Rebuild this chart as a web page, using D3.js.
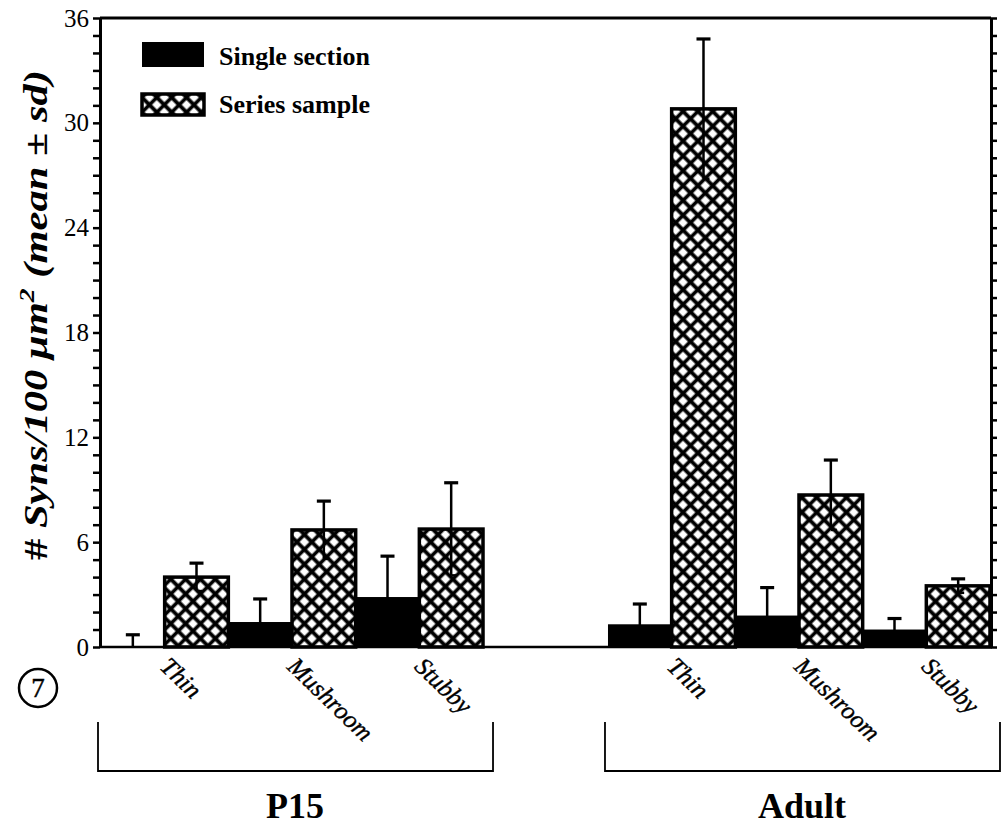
<!DOCTYPE html>
<html>
<head>
<meta charset="utf-8">
<script src="https://cdn.jsdelivr.net/npm/d3@7"></script>
<style>
  body { margin: 0; background: #fff; }
  text { font-family: "Liberation Serif", "DejaVu Serif", serif; fill: #000; }
</style>
</head>
<body>
<div id="chart"></div>
<script>
// values
var groups = ["P15", "Adult"];
var categories = ["Thin", "Mushroom", "Stubby"];
var seriesNames = ["Single section", "Series sample"];
var p15Single = [0, 1.43, 2.86];
var p15SingleSd = [0.7, 1.32, 2.34];
var p15Series = [4.0, 6.7, 6.75];
var p15SeriesSd = [0.8, 1.65, 2.65];
var adultSingle = [1.3, 1.8, 1.0];
var adultSingleSd = [1.16, 1.6, 0.63];
var adultSeries = [30.8, 8.7, 3.5];
var adultSeriesSd = [4.0, 2.0, 0.4];
var yTicks = [0, 6, 12, 18, 24, 30, 36];

var width = 1007, height = 826;
var plotLeft = 100, plotRight = 991, plotTop = 18, plotBottom = 647;

// flatten into bar records
var bars = [];
[[p15Single, p15SingleSd, p15Series, p15SeriesSd], [adultSingle, adultSingleSd, adultSeries, adultSeriesSd]]
  .forEach(function(g, gi) {
    categories.forEach(function(c, ci) {
      bars.push({ group: groups[gi], cat: c, series: seriesNames[0], mean: g[0][ci], sd: g[1][ci] });
      bars.push({ group: groups[gi], cat: c, series: seriesNames[1], mean: g[2][ci], sd: g[3][ci] });
    });
  });

var svg = d3.select("#chart").append("svg")
  .attr("width", width)
  .attr("height", height);

// cross-hatch fill
var pat = svg.append("defs").append("pattern")
  .attr("id", "hatch")
  .attr("patternUnits", "userSpaceOnUse")
  .attr("width", 10.5).attr("height", 10.5)
  .attr("patternTransform", "rotate(45)");
pat.append("rect").attr("width", 10.5).attr("height", 10.5).attr("fill", "#fff");
pat.append("path").attr("d", "M0,5.25H10.5M5.25,0V10.5").attr("stroke", "#000").attr("stroke-width", 3.6);

// scales
var y = d3.scaleLinear().domain([0, 36]).range([plotBottom, plotTop]);
var xGroup = d3.scaleBand().domain(groups).range([101, 990]).paddingInner(0.2465);
var xCat = d3.scaleBand().domain(categories).range([0, xGroup.bandwidth()]);
var xSeries = d3.scaleBand().domain(seriesNames).range([0, xCat.bandwidth()]);

function barX(d) { return xGroup(d.group) + xCat(d.cat) + xSeries(d.series); }

// bars
svg.selectAll(".bar")
  .data(bars)
  .enter().append("rect")
  .attr("class", "bar")
  .attr("x", barX)
  .attr("y", function(d) { return y(d.mean); })
  .attr("width", xSeries.bandwidth())
  .attr("height", function(d) { return y(0) - y(d.mean); })
  .attr("fill", function(d) { return d.series === seriesNames[0] ? "#000" : "url(#hatch)"; })
  .attr("stroke", "#000")
  .attr("stroke-width", function(d) { return d.series === seriesNames[0] ? 0 : 3.5; });

// error bars
var err = svg.selectAll(".err")
  .data(bars)
  .enter().append("g")
  .attr("class", "err")
  .attr("transform", function(d) { return "translate(" + (barX(d) + xSeries.bandwidth() / 2) + ",0)"; });
err.append("line")
  .attr("y1", function(d) { return y(Math.max(0, d.mean - d.sd)); })
  .attr("y2", function(d) { return y(d.mean + d.sd); })
  .attr("stroke", "#000").attr("stroke-width", 2.5);
err.append("line")
  .attr("x1", -7).attr("x2", 7)
  .attr("y1", function(d) { return y(d.mean + d.sd); })
  .attr("y2", function(d) { return y(d.mean + d.sd); })
  .attr("stroke", "#000").attr("stroke-width", 3.2);
err.filter(function(d) { return d.series === seriesNames[1]; })
  .append("line")
  .attr("x1", 0).attr("x2", 6)
  .attr("y1", function(d) { return y(d.mean - d.sd); })
  .attr("y2", function(d) { return y(d.mean - d.sd); })
  .attr("stroke", "#000").attr("stroke-width", 2.5);

// frame: top line and baseline
svg.append("line").attr("x1", plotLeft).attr("x2", plotRight).attr("y1", plotTop).attr("y2", plotTop)
  .attr("stroke", "#000").attr("stroke-width", 3);
svg.append("line").attr("x1", plotLeft).attr("x2", plotRight).attr("y1", y(0)).attr("y2", y(0))
  .attr("stroke", "#000").attr("stroke-width", 2.5);

// left axis
var yAxis = svg.append("g")
  .attr("transform", "translate(" + plotLeft + ",0)")
  .call(d3.axisLeft(y).tickValues(d3.range(0, 37)).tickSize(7).tickSizeOuter(0)
    .tickFormat(function(d) { return yTicks.indexOf(d) >= 0 ? d : ""; }));
yAxis.select(".domain").attr("stroke-width", 3);
yAxis.selectAll(".tick line").attr("stroke-width", 2.5);
yAxis.selectAll(".tick text")
  .attr("x", -11)
  .style("font-family", "'Liberation Serif', serif")
  .style("font-size", "25px");

// right axis
var yAxisR = svg.append("g")
  .attr("transform", "translate(" + plotRight + ",0)")
  .call(d3.axisRight(y).tickValues(d3.range(0, 37)).tickSize(6).tickSizeOuter(0).tickFormat(""));
yAxisR.select(".domain").attr("stroke-width", 3);
yAxisR.selectAll(".tick line").attr("stroke-width", 2.5);

// category labels
svg.selectAll(".cat")
  .data(bars.filter(function(d) { return d.series === seriesNames[0]; }))
  .enter().append("text")
  .attr("class", "cat")
  .attr("transform", function(d) {
    return "translate(" + (xGroup(d.group) + xCat(d.cat) + xCat.bandwidth() / 2 - 6) + "," + 668 + ") rotate(44)";
  })
  .style("font-style", "italic")
  .style("font-size", "25px")
  .style("stroke", "#000")
  .style("stroke-width", 0.4)
  .text(function(d) { return d.cat; });

// group brackets
var br = svg.selectAll(".bracket")
  .data(groups)
  .enter().append("g")
  .attr("class", "bracket");
br.append("path")
  .attr("d", function(g) {
    var x0 = xGroup(g) - 3, x1 = xGroup(g) + xGroup.bandwidth() + 10;
    return "M" + x0 + ",722V771H" + x1 + "V722";
  })
  .attr("fill", "none").attr("stroke", "#000").attr("stroke-width", 1.8);
br.append("text")
  .attr("x", function(g) { return xGroup(g) + xGroup.bandwidth() / 2 + 3; })
  .attr("y", 818)
  .attr("text-anchor", "middle")
  .style("font-weight", "bold")
  .style("font-size", "36px")
  .text(function(g) { return g; });

// y axis title
var yt = svg.append("text")
  .attr("transform", "translate(47,315) rotate(-90)")
  .attr("text-anchor", "middle")
  .attr("textLength", 490)
  .attr("lengthAdjust", "spacingAndGlyphs")
  .style("font-weight", "bold")
  .style("font-size", "34px");
yt.append("tspan").text("# ");
yt.append("tspan").style("font-style", "italic").text("Syns/100 μm");
yt.append("tspan").style("font-style", "italic").attr("dy", -13).style("font-size", "22px").text("2");
yt.append("tspan").style("font-style", "italic").attr("dy", 13).text(" (mean ± sd)");

// legend
var legend = svg.selectAll(".legend")
  .data(seriesNames)
  .enter().append("g")
  .attr("class", "legend")
  .attr("transform", function(d, i) { return "translate(142," + (42 + i * 48) + ")"; });
legend.append("rect")
  .attr("width", 62)
  .attr("height", function(d, i) { return i === 0 ? 25 : 21; })
  .attr("y", function(d, i) { return i === 0 ? 0 : 4; })
  .attr("fill", function(d, i) { return i === 0 ? "#000" : "url(#hatch)"; })
  .attr("stroke", "#000")
  .attr("stroke-width", function(d, i) { return i === 0 ? 0 : 3.5; });
legend.append("text")
  .attr("x", 77)
  .attr("y", 23)
  .style("font-weight", "bold")
  .style("font-size", "26px")
  .text(function(d) { return d; });

// figure number
svg.append("circle").attr("cx", 38).attr("cy", 688).attr("r", 19)
  .attr("fill", "none").attr("stroke", "#000").attr("stroke-width", 2.5);
svg.append("text").attr("x", 38).attr("y", 697).attr("text-anchor", "middle")
  .style("font-size", "27px").style("stroke", "#000").style("stroke-width", 0.5).text("7");
</script>
</body>
</html>
